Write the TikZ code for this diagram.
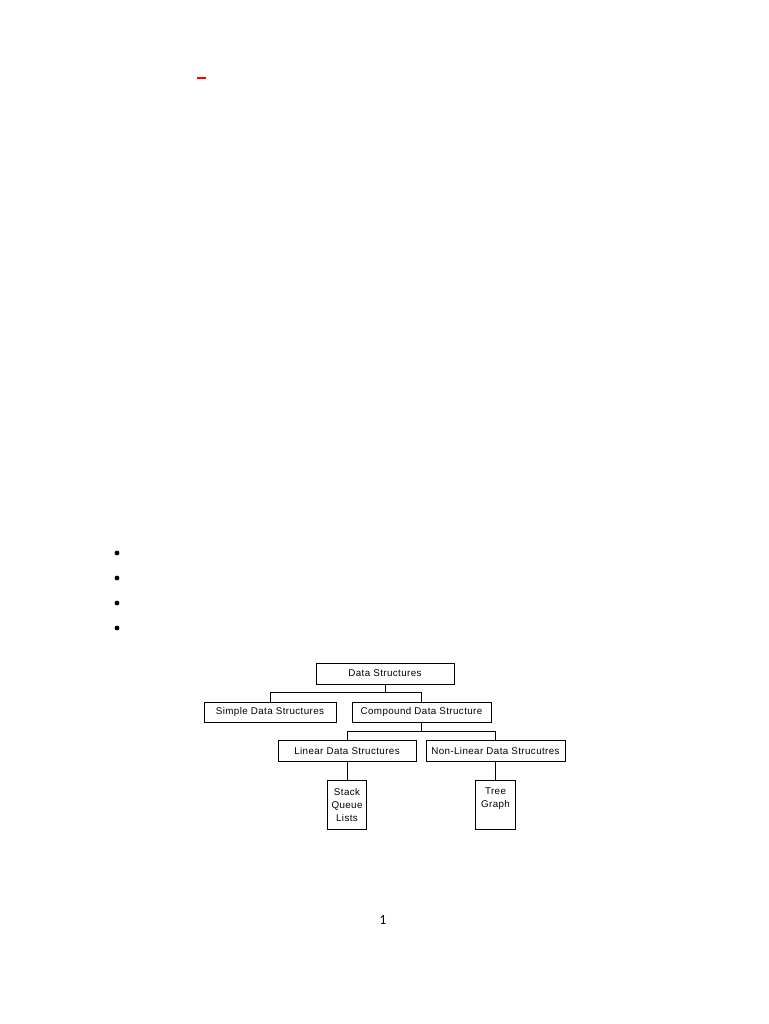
\documentclass[tikz,border=0pt]{standalone}
\usepackage{fontspec}
\setmainfont{Liberation Sans}
\newfontfamily\boxfont[LetterSpace=4]{Liberation Sans}
\newfontfamily\pagefont{Carlito}
\begin{document}
\begin{tikzpicture}[x=1pt,y=-1pt,
  box/.style={draw, line width=0.8pt, inner sep=0pt, font=\boxfont\fontsize{9.8}{13}\selectfont, align=center},
  conn/.style={line width=0.8pt}]
\useasboundingbox (0,0) rectangle (768,1024);
\draw[red, line width=1.2pt] (197,78) -- (206,78);
\foreach \y [count=\i] in {553,578,603,628} \fill (117,\y) circle (2.4) coordinate (b\i);
\node[box, minimum width=138, minimum height=21] (ds) at (385,673.5) {Data Structures};
\node[box, minimum width=132, minimum height=20] (simple) at (270,712) {Simple Data Structures};
\node[box, minimum width=139, minimum height=20] (compound) at (421.5,712) {Compound Data Structure};
\node[box, minimum width=138, minimum height=21] (linear) at (347,750.5) {Linear Data Structures};
\node[box, minimum width=139, minimum height=21] (nonlinear) at (495.5,750.5) {Non-Linear Data Strucutres};
\node[box, minimum width=39, minimum height=49] (stack) at (347,804.5) {Stack\\Queue\\Lists};
\node[box, minimum width=40, minimum height=49] (tree) at (495.5,804.5) {Tree\\Graph\\\mbox{}};
\draw[conn] (ds.south) -- (ds.south |- 0,692) -| (simple.north);
\draw[conn] (ds.south |- 0,692) -| (compound.north);
\draw[conn] (compound.south) -- (compound.south |- 0,731) -| (linear.north);
\draw[conn] (compound.south |- 0,731) -| (nonlinear.north);
\draw[conn] (linear.south) -- (stack.north);
\draw[conn] (nonlinear.south) -- (tree.north);
\node[font=\pagefont\fontsize{14}{16}\selectfont] (pg) at (383,920) {1};
\end{tikzpicture}
\end{document}
